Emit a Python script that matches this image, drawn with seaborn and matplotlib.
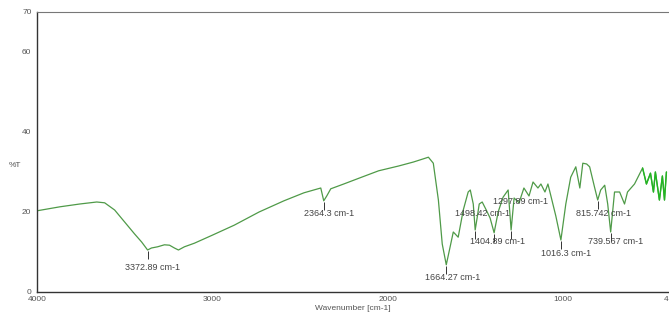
import numpy as np
import matplotlib
matplotlib.use("Agg")
import matplotlib.pyplot as plt
import seaborn as sns
from matplotlib.ticker import MultipleLocator

# FTIR spectrum
wavenumber = [4000, 3869, 3756, 3659, 3614, 3557, 3500, 3443, 3403, 3369,
              3347, 3312, 3273, 3244, 3216, 3193, 3159, 3102, 3000, 2875,
              2733, 2591, 2477, 2381, 2364, 2347, 2324, 2250, 2148, 2051,
              1937, 1852, 1795, 1767, 1739, 1710, 1688, 1665, 1642, 1625,
              1614, 1597, 1568, 1540, 1528, 1511, 1500, 1489, 1477, 1460,
              1437, 1415, 1392, 1369, 1341, 1312, 1295, 1278, 1250, 1222,
              1193, 1170, 1142, 1125, 1102, 1085, 1068, 1040, 1011, 983,
              955, 926, 903, 886, 864, 847, 818, 801, 784, 761,
              744, 727, 705, 676, 648, 631, 591, 545, 523, 500,
              483, 472, 449, 432, 420, 409]
transmittance = [20.3, 21.3, 22.0, 22.5, 22.3, 20.5, 17.5, 14.5, 12.5, 10.5,
                 11.0, 11.3, 11.8, 11.7, 11.0, 10.5, 11.3, 12.2, 14.2, 16.7,
                 20.0, 22.8, 24.8, 26.0, 22.8, 24.0, 25.8, 27.0, 28.7, 30.3,
                 31.5, 32.5, 33.3, 33.7, 32.2, 23.0, 12.0, 6.8, 11.5, 15.0,
                 14.5, 13.7, 20.5, 25.0, 25.5, 22.0, 15.5, 18.5, 22.0, 22.5,
                 20.5, 18.5, 14.8, 20.0, 23.7, 25.5, 15.5, 23.5, 22.3, 26.0,
                 24.0, 27.5, 26.0, 27.0, 25.0, 27.0, 24.0, 19.0, 13.0, 22.0,
                 28.7, 31.3, 26.0, 32.2, 32.0, 31.3, 26.0, 23.0, 25.5, 26.7,
                 22.0, 15.0, 25.0, 25.0, 22.0, 25.0, 27.0, 31.0, 27.0, 29.7,
                 25.0, 30.0, 23.0, 29.0, 23.0, 30.0]

peak_values = [3372.89, 2364.3, 1664.27, 1498.42, 1404.89, 1297.89, 1016.3, 815.742, 739.567]
peak_labels = ["3372.89 cm-1", "2364.3 cm-1", "1664.27 cm-1", "1498.42 cm-1",
               "1404.89 cm-1", "1297.89 cm-1", "1016.3 cm-1", "815.742 cm-1",
               "739.567 cm-1"]
# where each label sits (wavenumber, %T)
label_pos = [(3500, 6.2), (2477, 19.7), (1784, 3.5), (1614, 19.7), (1528, 12.5),
             (1398, 22.5), (1125, 9.7), (926, 19.7), (858, 12.5)]

sns.set_style("white")
plt.rcParams['font.family'] = ['Liberation Sans Narrow', 'Liberation Sans', 'DejaVu Sans']

wn = np.array(wavenumber)
tr = np.array(transmittance)

fig = plt.figure(figsize=(6.69, 3.2), dpi=100)
ax = fig.add_axes([0.0553, 0.0875, 0.9432, 0.875])

sns.lineplot(x=wn, y=tr, ax=ax, color='#4f9a48', linewidth=0.9, sort=False)
tail = wn <= 545
sns.lineplot(x=wn[tail], y=tr[tail], ax=ax, color='#22b622', linewidth=1.0, sort=False)

# peak markers and labels
for val, lab, pos in zip(peak_values, peak_labels, label_pos):
    win = np.abs(wn - val) <= 40
    idx = np.where(win)[0][np.argmin(tr[win])]
    ax.vlines(wn[idx], tr[idx] - 2.2, tr[idx] - 0.3, color='#333333', linewidth=0.7)
    ax.text(pos[0], pos[1], lab, fontsize=6.5, color='#444444', ha='left', va='center')

ax.set_xlim(4000, 400)
ax.set_ylim(0, 70)
ax.set_xticks([4000, 3000, 2000, 1000, 400])
ax.set_xticklabels(['4000', '3000', '2000', '1000', '4'])
ax.get_xticklabels()[-1].set_horizontalalignment('right')
ax.xaxis.set_minor_locator(MultipleLocator(500))
ax.set_yticks([0, 20, 40, 60, 70])
ax.yaxis.set_minor_locator(MultipleLocator(10))
ax.tick_params(axis='x', which='both', direction='in', length=4, width=0.8,
               labelsize=6, labelcolor='#555555', pad=3)
ax.tick_params(axis='x', which='minor', length=3)
ax.tick_params(axis='y', which='both', direction='out', length=3, width=0.8,
               labelsize=6, labelcolor='#555555', pad=1)
ax.tick_params(axis='y', which='minor', length=2)

for side in ['left', 'bottom']:
    ax.spines[side].set_color('#333333')
    ax.spines[side].set_linewidth(1.0)
ax.spines['top'].set_color('#777777')
ax.spines['top'].set_linewidth(0.8)
ax.spines['right'].set_visible(False)

ax.set_xlabel('Wavenumber [cm-1]', fontsize=6, color='#555555', labelpad=1)
ax.set_ylabel('%T', fontsize=6, color='#555555', rotation=0, labelpad=6)
ax.yaxis.set_label_coords(-0.035, 0.44)
ax.grid(False)

fig.savefig('out.png', dpi=100)
